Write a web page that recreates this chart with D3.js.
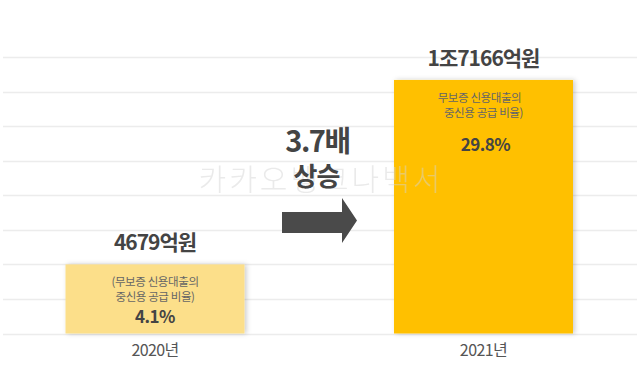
<!DOCTYPE html>
<html><head><meta charset="utf-8">
<script src="https://cdn.jsdelivr.net/npm/d3@7"></script>
<style>
html,body{margin:0;padding:0;background:#fff;}
text{font-family:"Noto Sans CJK KR","Noto Sans",sans-serif;}
</style></head>
<body>
<svg id="chart" width="637" height="385"></svg>
<script>
const years = ["2020년", "2021년"];
const amounts = [4679, 17166];            // 억원
const amountLabels = ["4679억원", "1조7166억원"];
const noteLine1 = ["(무보증 신용대출의", "무보증 신용대출의"];
const noteLine2 = ["중신용 공급 비율)", "중신용 공급 비율)"];
const shares = ["4.1%", "29.8%"];
const growthLabel = ["3.7배", "상승"];
const watermark = "카카오뱅크나백서";

const W = 637, H = 385;
const svg = d3.select("#chart");
const baseY = 333.5, topY = 57.3, yMax = 18700;
const y = d3.scaleLinear().domain([0, yMax]).range([baseY, topY]);
const x = d3.scaleBand().domain(years).range([65.5, 573]).paddingInner(0.455).paddingOuter(0);
const barColors = ["#FCDF8A", "#FFC000"];

const defs = svg.append("defs");
const f = defs.append("filter").attr("id","sh").attr("x","-10%").attr("y","-10%").attr("width","130%").attr("height","130%");
f.append("feDropShadow").attr("dx",2).attr("dy",0).attr("stdDeviation",2.5).attr("flood-color","#000").attr("flood-opacity",0.2);

// grid
const gridVals = d3.range(9).map(i => i * yMax / 8);
svg.append("g").selectAll("line").data(gridVals).join("line")
  .attr("x1", 3).attr("x2", W)
  .attr("y1", d => Math.round(y(d)) + 0.5).attr("y2", d => Math.round(y(d)) + 0.5)
  .attr("stroke", "#ececec").attr("stroke-width", 1.5);

// bars
const bars = years.map((yr, i) => ({yr, v: amounts[i], i}));
svg.append("g").selectAll("rect").data(bars).join("rect")
  .attr("x", d => x(d.yr)).attr("width", x.bandwidth())
  .attr("y", d => y(d.v)).attr("height", d => baseY - y(d.v))
  .attr("fill", d => barColors[d.i]).attr("filter", "url(#sh)");

// watermark
svg.append("text").attr("x", 321).attr("y", 190).attr("text-anchor","middle")
  .attr("font-size", 30).attr("font-weight", 300).attr("letter-spacing", 3)
  .attr("fill", "#d4d4d4").attr("opacity", 0.48).text(watermark);

// amount labels
svg.append("g").selectAll("text").data(bars).join("text")
  .attr("x", d => x(d.yr) + x.bandwidth()/2)
  .attr("y", d => y(d.v) - 14)
  .attr("text-anchor","middle").attr("font-size", 21).attr("font-weight", 700)
  .attr("letter-spacing", -1).attr("fill", "#444")
  .text(d => amountLabels[d.i]);

// notes inside bars
const notes = svg.append("g");
notes.selectAll("text.l1").data(bars).join("text").attr("class","l1")
  .attr("x", d => x(d.yr) + x.bandwidth()/2 - (d.i === 1 ? 4 : 0))
  .attr("y", d => y(d.v) + 22).attr("text-anchor","middle")
  .attr("font-size", 11.5).attr("fill", "#666").attr("letter-spacing", -0.4)
  .text(d => noteLine1[d.i]);
notes.selectAll("text.l2").data(bars).join("text").attr("class","l2")
  .attr("x", d => x(d.yr) + x.bandwidth()/2)
  .attr("y", d => y(d.v) + 37).attr("text-anchor","middle")
  .attr("font-size", 11.5).attr("fill", "#666").attr("letter-spacing", -0.4)
  .text(d => noteLine2[d.i]);
notes.selectAll("text.pct").data(bars).join("text").attr("class","pct")
  .attr("x", d => x(d.yr) + x.bandwidth()/2 + (d.i === 1 ? 2 : 0))
  .attr("y", d => y(d.v) + (d.i === 1 ? 71 : 59)).attr("text-anchor","middle")
  .attr("font-size", 17).attr("font-weight", 700).attr("fill", "#444").attr("letter-spacing", -0.5)
  .text(d => shares[d.i]);

// x axis labels
const xAxis = d3.axisBottom(x).tickSize(0).tickPadding(11);
const gx = svg.append("g").attr("transform", `translate(0,${baseY})`).call(xAxis);
gx.select(".domain").remove();
gx.selectAll("text").attr("font-size", 16).attr("fill", "#555").attr("letter-spacing", -0.6)
  .style("font-family", '"Noto Sans CJK KR", sans-serif');

// growth text
const gxC = 317.5;
svg.append("text").attr("x", gxC).attr("y", 152).attr("text-anchor","middle")
  .attr("font-size", 29).attr("font-weight", 700).attr("fill", "#444").attr("letter-spacing", -1.5)
  .text(growthLabel[0]);
svg.append("text").attr("x", gxC - 1).attr("y", 186).attr("text-anchor","middle")
  .attr("font-size", 26).attr("font-weight", 700).attr("fill", "#444").attr("letter-spacing", -1)
  .text(growthLabel[1]);

// arrow
const arrow = d3.path();
arrow.moveTo(282, 212); arrow.lineTo(342, 212); arrow.lineTo(342, 198);
arrow.lineTo(357, 220.5); arrow.lineTo(342, 243); arrow.lineTo(342, 233);
arrow.lineTo(282, 233); arrow.closePath();
svg.append("path").attr("d", arrow.toString()).attr("fill", "#4a4a4a");
</script>
</body></html>
